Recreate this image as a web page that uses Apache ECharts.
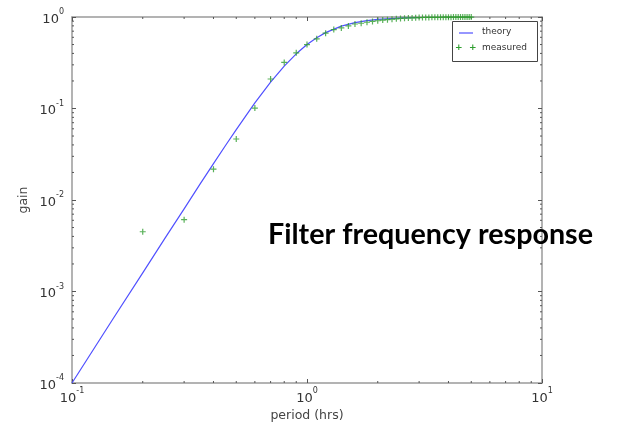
<!DOCTYPE html>
<html>
<head>
<meta charset="utf-8">
<script src="https://cdn.jsdelivr.net/npm/echarts@6/dist/echarts.min.js"></script>
<style>
  html, body { margin: 0; padding: 0; background: #fff; }
  #chart { width: 621px; height: 422px; }
</style>
</head>
<body>
<div id="chart"></div>
<script>
// theory curve
var theoryPeriod = [0.1, 0.15, 0.2, 0.25, 0.3, 0.35, 0.4, 0.45, 0.5, 0.6, 0.7, 0.8, 0.9, 1.0, 1.1, 1.2, 1.4, 1.6, 1.8, 2.0, 2.5, 3.0];
var theoryGain = [1.0e-4, 5.1e-4, 1.6e-3, 3.9e-3, 8.0e-3, 0.0148, 0.025, 0.0394, 0.0588, 0.115, 0.194, 0.291, 0.396, 0.5, 0.594, 0.675, 0.794, 0.868, 0.913, 0.941, 0.975, 0.988];

// measured points
var measPeriod = [0.2, 0.3, 0.4, 0.5, 0.6, 0.7, 0.8, 0.9, 1.0, 1.1, 1.2, 1.3, 1.4, 1.5, 1.6, 1.7, 1.8, 1.9, 2.0,
  2.1, 2.2, 2.3, 2.4, 2.5, 2.6, 2.7, 2.8, 2.9, 3.0, 3.1, 3.2, 3.3, 3.4, 3.5, 3.6, 3.7, 3.8, 3.9, 4.0,
  4.1, 4.2, 4.3, 4.4, 4.5, 4.6, 4.7, 4.8, 4.9, 5.0];
var measGain = [0.0045, 0.0061, 0.0217, 0.0464, 0.101, 0.21, 0.319, 0.406, 0.5, 0.577, 0.665, 0.728, 0.759, 0.798, 0.839, 0.855, 0.876, 0.895, 0.91,
  0.925, 0.935, 0.945, 0.955, 0.965, 0.97, 0.975, 0.978, 0.982, 0.985, 0.987, 0.989, 0.99, 0.991, 0.992, 0.993, 0.994, 0.995, 0.995, 0.996,
  0.996, 0.997, 0.997, 0.997, 0.998, 0.998, 0.998, 0.998, 0.999, 0.999];

// minor tick values (log axes)
var xMinor = [0.2, 0.3, 0.4, 0.5, 0.6, 0.7, 0.8, 0.9, 2, 3, 4, 5, 6, 7, 8, 9];
var yMinor = [2e-4, 3e-4, 4e-4, 5e-4, 6e-4, 7e-4, 8e-4, 9e-4,
  2e-3, 3e-3, 4e-3, 5e-3, 6e-3, 7e-3, 8e-3, 9e-3,
  0.02, 0.03, 0.04, 0.05, 0.06, 0.07, 0.08, 0.09,
  0.2, 0.3, 0.4, 0.5, 0.6, 0.7, 0.8, 0.9];

function zip(a, b) {
  var out = [];
  for (var i = 0; i < a.length; i++) out.push([a[i], b[i]]);
  return out;
}

function powLabel(v) {
  var e = Math.round(Math.log10(v));
  return '{b|10}{s|' + e + '}';
}

var richLbl = {
  b: { fontSize: 13, color: '#333', fontFamily: 'DejaVu Sans', lineHeight: 18, verticalAlign: 'bottom' },
  s: { fontSize: 8, color: '#333', fontFamily: 'DejaVu Sans', lineHeight: 18, verticalAlign: 'top' }
};

var frameColor = '#9a9a9a';
var tickColor = '#555';

function logAxis(pos, minV, maxV, showLabel, extra) {
  var ax = {
    type: 'log',
    logBase: 10,
    min: minV,
    max: maxV,
    position: pos,
    axisLine: { show: true, lineStyle: { color: frameColor, width: 1.5 } },
    axisTick: { show: true, inside: true, length: 4, lineStyle: { color: tickColor } },
    minorTick: { show: false },
    splitLine: { show: false },
    axisLabel: {
      show: showLabel,
      margin: pos === 'bottom' ? 4 : 8,
      formatter: powLabel,
      rich: richLbl
    }
  };
  for (var k in extra) ax[k] = extra[k];
  return ax;
}

// minor ticks drawn inward on both sides of the frame
function minorTickSeries(values, isX) {
  return {
    type: 'custom',
    silent: true,
    data: values.map(function (v) { return isX ? [v, 1] : [1, v]; }),
    renderItem: function (params, api) {
      var cs = params.coordSys;
      var p = api.coord([api.value(0), api.value(1)]);
      var len = 2;
      var style = { stroke: tickColor, lineWidth: 1 };
      var shapes;
      if (isX) {
        shapes = [
          { type: 'line', shape: { x1: p[0], y1: cs.y + cs.height, x2: p[0], y2: cs.y + cs.height - len }, style: style },
          { type: 'line', shape: { x1: p[0], y1: cs.y, x2: p[0], y2: cs.y + len }, style: style }
        ];
      } else {
        shapes = [
          { type: 'line', shape: { x1: cs.x, y1: p[1], x2: cs.x + len, y2: p[1] }, style: style },
          { type: 'line', shape: { x1: cs.x + cs.width, y1: p[1], x2: cs.x + cs.width - len, y2: p[1] }, style: style }
        ];
      }
      return { type: 'group', children: shapes };
    },
    z: 1
  };
}

var chart = echarts.init(document.getElementById('chart'));

chart.setOption({
  animation: false,
  grid: { left: 72, right: 79, top: 17, bottom: 39, outerBoundsMode: 'none', containLabel: false },
  xAxis: [
    logAxis('bottom', 0.1, 10, true, {
      name: 'period (hrs)', nameLocation: 'middle', nameGap: 26, nameMoveOverlap: false,
      nameTextStyle: { fontSize: 12.5, color: '#444', fontFamily: 'DejaVu Sans' }
    }),
    logAxis('top', 0.1, 10, false, {})
  ],
  yAxis: [
    logAxis('left', 1e-4, 1, true, {
      name: 'gain', nameLocation: 'middle', nameGap: 42, nameMoveOverlap: false,
      nameTextStyle: { fontSize: 12.5, color: '#444', fontFamily: 'DejaVu Sans' }
    }),
    logAxis('right', 1e-4, 1, false, {})
  ],
  series: [
    minorTickSeries(xMinor, true),
    minorTickSeries(yMinor, false),
    {
      name: 'theory',
      type: 'line',
      data: zip(theoryPeriod, theoryGain),
      smooth: false,
      showSymbol: false,
      lineStyle: { color: '#5050ff', width: 1.2 },
      z: 2
    },
    {
      name: 'measured',
      type: 'scatter',
      data: zip(measPeriod, measGain),
      symbol: 'path://M4,0h2v4h4v2h-4v4h-2v-4h-4v-2h4z',
      symbolSize: 6,
      itemStyle: { color: '#2f9e2f' },
      z: 3
    }
  ],
  graphic: [
    // legend
    { type: 'rect', left: 452, top: 21, shape: { width: 85, height: 40 },
      style: { fill: '#fff', stroke: '#444', lineWidth: 1 }, z: 10 },
    { type: 'line', shape: { x1: 459, y1: 33, x2: 473, y2: 33 },
      style: { stroke: '#5050ff', lineWidth: 1.2 }, z: 11 },
    { type: 'text', left: 482, top: 27, style: { text: 'theory', fontSize: 9, fill: '#333', fontFamily: 'DejaVu Sans' }, z: 11 },
    { type: 'text', left: 455, top: 43, style: { text: '+', fontSize: 9, fontWeight: 'bold', fill: '#2f9e2f', fontFamily: 'DejaVu Sans' }, z: 11 },
    { type: 'text', left: 469, top: 43, style: { text: '+', fontSize: 9, fontWeight: 'bold', fill: '#2f9e2f', fontFamily: 'DejaVu Sans' }, z: 11 },
    { type: 'text', left: 482, top: 43, style: { text: 'measured', fontSize: 9, fill: '#333', fontFamily: 'DejaVu Sans' }, z: 11 },
    // caption
    { type: 'text', left: 268, top: 220,
      style: { text: 'Filter frequency response', fontSize: 28.7, fontWeight: 'bold', fill: '#000', fontFamily: 'Lato' }, z: 12 }
  ]
});
</script>
</body>
</html>
